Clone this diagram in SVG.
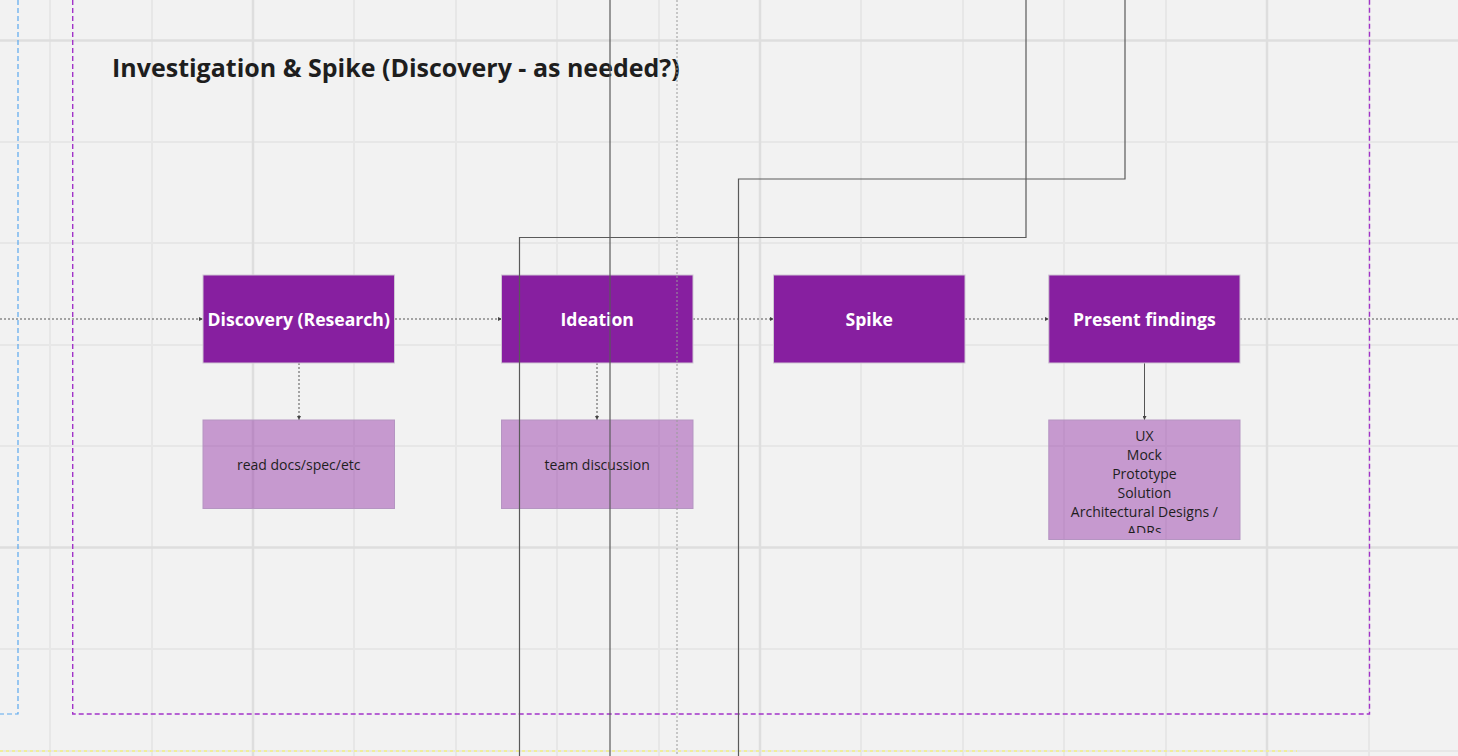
<svg xmlns="http://www.w3.org/2000/svg" width="1458" height="756" viewBox="0 0 1458 756">
<defs>
<style>
.gmin{stroke:#e7e7e7;stroke-width:2;fill:none}
.gmaj{stroke:#dedede;stroke-width:2.5;fill:none}
.node{fill:#871fa0;stroke:#cfc6d3;stroke-width:1}
.sub{fill:#8a1fa0;fill-opacity:0.42;stroke:#b595c2;stroke-width:1}
.nt{font-family:"Open Sans","Noto Sans","DejaVu Sans",sans-serif;font-weight:700;font-size:17.6px;fill:#ffffff;text-anchor:middle}
.st{font-family:"Open Sans","Noto Sans","DejaVu Sans",sans-serif;font-size:14px;fill:#1e1e1e;text-anchor:middle}
.title{font-family:"Open Sans","Noto Sans","DejaVu Sans",sans-serif;font-weight:700;font-size:25px;fill:#1e1e1e}
.dash{stroke:#555;stroke-width:1;stroke-dasharray:2 2;fill:none}
.solid{stroke:#555;stroke-width:1;fill:none}
.thru{stroke:#5a5a5a;stroke-width:1.2;fill:none}
</style>
<marker id="ah" viewBox="0 0 6 6" refX="6" refY="3" markerWidth="4" markerHeight="4" orient="auto" markerUnits="userSpaceOnUse">
<path d="M0,0 L6,3 L0,6 z" fill="#444"/>
</marker>
<clipPath id="clipPF"><rect x="1049" y="420" width="191" height="113"/></clipPath>
</defs>
<rect x="0" y="0" width="1458" height="756" fill="#f2f2f2"/>
<g id="grid">
<path class="gmin" d="M50,0V756M152,0V756M354,0V756M456,0V756M557,0V756M659,0V756M861,0V756M963,0V756M1064,0V756M1166,0V756M1369,0V756"/>
<path class="gmin" d="M0,142H1458M0,243H1458M0,345H1458M0,446H1458M0,649H1458M0,751H1458"/>
<path class="gmaj" d="M253,0V756M760,0V756M1267,0V756M0,40.5H1458M0,547.5H1458"/>
</g>
<g id="frames">
<path d="M18,0V714H0" stroke="#5aa8ee" stroke-width="1.2" stroke-dasharray="5 3" fill="none"/>
<path d="M72.7,0V714H1369.5V0" stroke="#a233c9" stroke-width="1.4" stroke-dasharray="5 3" fill="none"/>
<path d="M0,751H1297" stroke="#f0ee9c" stroke-width="2" stroke-dasharray="3 3" fill="none"/>
</g>
<text id="title" class="title" x="112" y="76.5">Investigation &amp; Spike (Discovery - as needed?)</text>
<g id="flow-connectors">
<path class="dash" d="M0,319H203" marker-end="url(#ah)"/>
<path class="dash" d="M395,319H502" marker-end="url(#ah)"/>
<path class="dash" d="M693,319H774" marker-end="url(#ah)"/>
<path class="dash" d="M965,319H1049" marker-end="url(#ah)"/>
<path class="dash" d="M1240,319H1458"/>
<path class="dash" d="M299,363V420" marker-end="url(#ah)"/>
<path class="dash" d="M597,363V420" marker-end="url(#ah)"/>
<path class="solid" d="M1144.5,363V420" marker-end="url(#ah)"/>
</g>
<g id="node-discovery">
<rect class="node" x="203" y="275" width="191.5" height="88"/>
<text class="nt" x="298.7" y="325.5">Discovery (Research)</text>
</g>
<g id="node-ideation">
<rect class="node" x="501.5" y="275" width="191.5" height="88"/>
<text class="nt" x="597.2" y="325.5">Ideation</text>
</g>
<g id="node-spike">
<rect class="node" x="773.5" y="275" width="191.5" height="88"/>
<text class="nt" x="869.2" y="325.5">Spike</text>
</g>
<g id="node-present">
<rect class="node" x="1048.8" y="275" width="191.2" height="88"/>
<text class="nt" x="1144.4" y="325.5">Present findings</text>
</g>
<g id="sub-read">
<rect class="sub" x="203" y="420" width="191.5" height="88.5"/>
<text class="st" x="298.7" y="470">read docs/spec/etc</text>
</g>
<g id="sub-team">
<rect class="sub" x="501.5" y="420" width="191.5" height="88.5"/>
<text class="st" x="597.2" y="470">team discussion</text>
</g>
<g id="sub-present">
<rect class="sub" x="1048.8" y="420" width="191.2" height="119.5"/>
<g clip-path="url(#clipPF)">
<text class="st" x="1144.4" y="441">UX</text>
<text class="st" x="1144.4" y="460">Mock</text>
<text class="st" x="1144.4" y="479">Prototype</text>
<text class="st" x="1144.4" y="498">Solution</text>
<text class="st" x="1144.4" y="517">Architectural Designs /</text>
<text class="st" x="1144.4" y="536">ADRs</text>
</g>
</g>
<g id="through-connectors">
<path class="thru" d="M610,0V756"/>
<path class="thru" d="M1026,0V237.5H519.5V756"/>
<path class="thru" d="M1125,0V179H738.5V756"/>
<path d="M677,0V756" stroke="#9a9a9a" stroke-width="1" stroke-dasharray="2 2" fill="none"/>
</g>
</svg>
